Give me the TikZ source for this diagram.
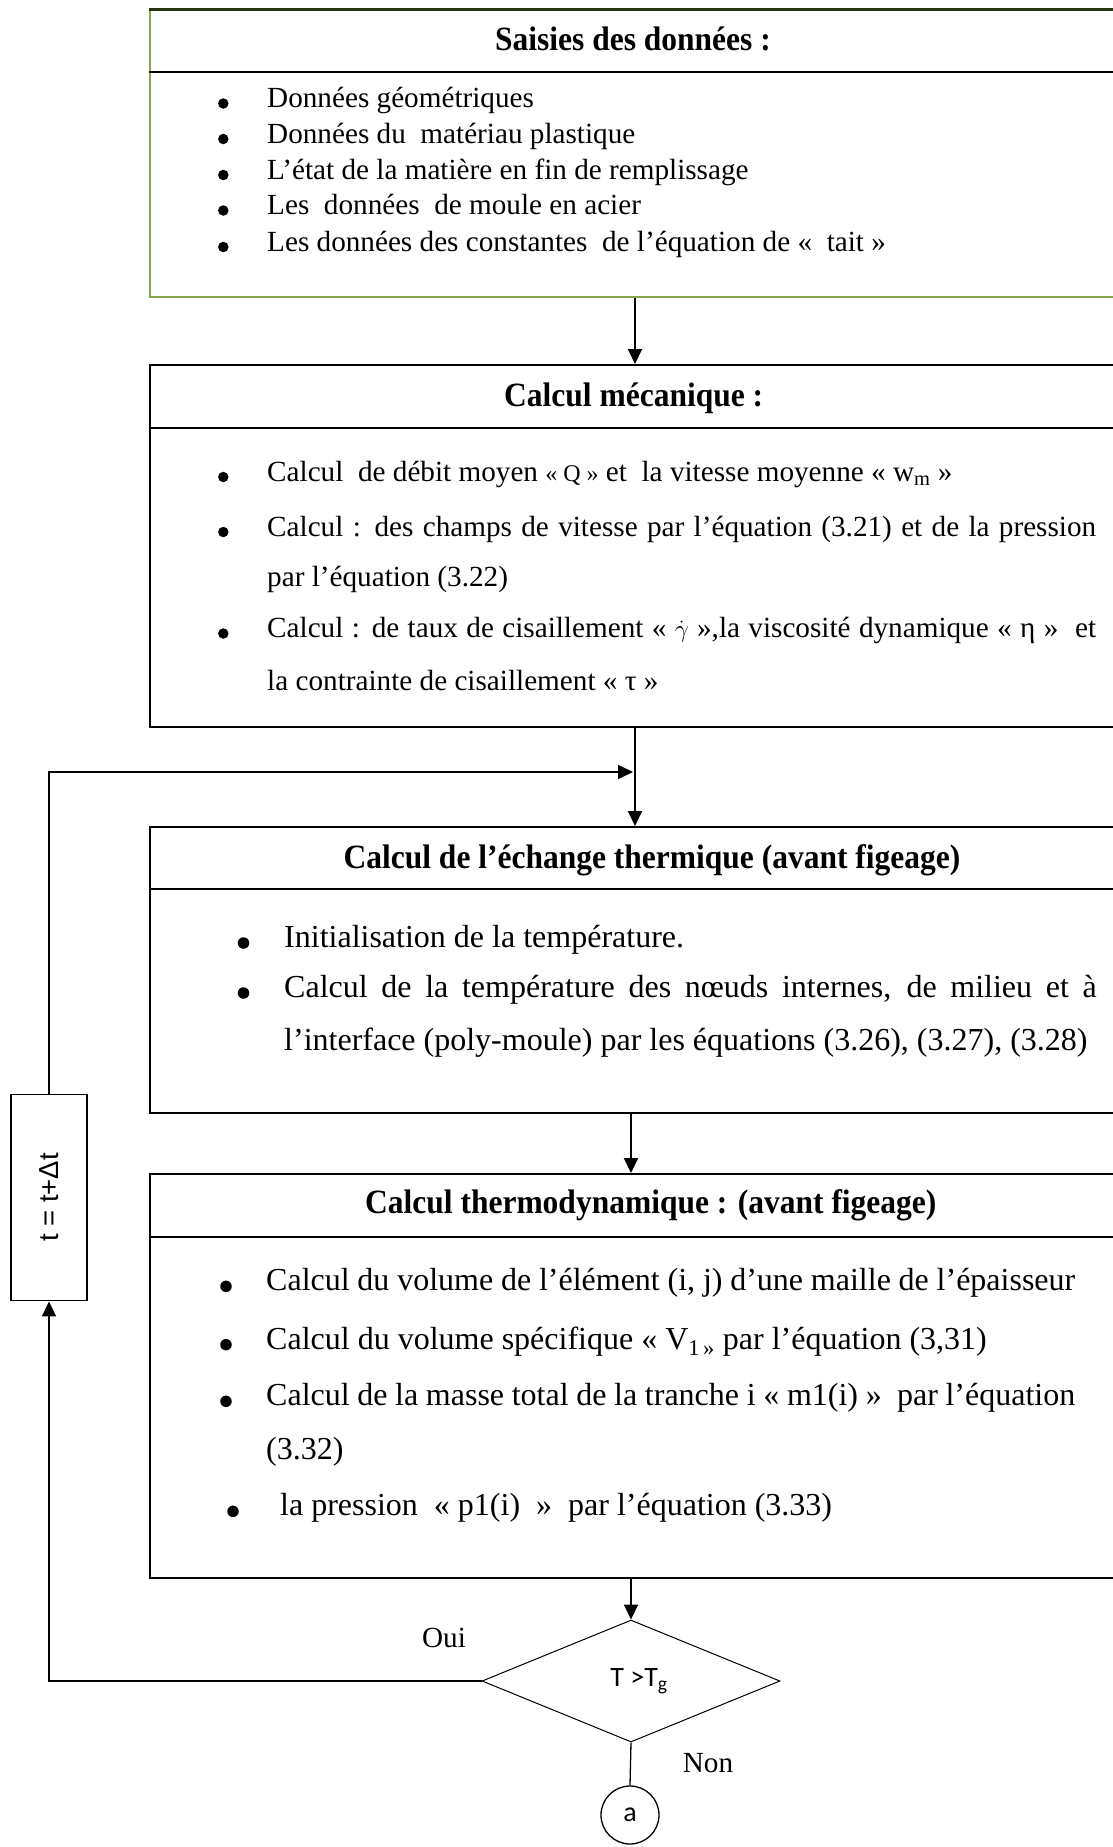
\documentclass[tikz,border=0pt]{standalone}
\usepackage{fontspec}
\setmainfont{Liberation Serif}
\newfontfamily\arialf{Liberation Sans}
\newfontfamily\calibf{Carlito}
\usetikzlibrary{arrows.meta,shapes.geometric}
\definecolor{boxgreen}{HTML}{86A64E}
\definecolor{darkgreen}{HTML}{26330F}
\newcommand{\ttl}[1]{\scalebox{1}[1.08]{#1}}
\begin{document}
\begin{tikzpicture}[x=1pt,y=-1pt,
  box/.style={draw, line width=2pt, rectangle, inner sep=0pt, anchor=north west, minimum width=975pt},
  arr/.style={-{Triangle[length=15pt,width=14pt]}, line width=2pt},
  body/.style={anchor=mid west, inner sep=0pt, font=\fontsize{29.2pt}{35pt}\selectfont},
  bodyL/.style={anchor=mid west, inner sep=0pt, font=\fontsize{32pt}{38pt}\selectfont},
  bul/.style={circle, fill=black, inner sep=0pt, minimum size=10.5pt},
  bulL/.style={circle, fill=black, inner sep=0pt, minimum size=11.5pt},
  title/.style={anchor=base, inner sep=0pt, font=\fontsize{31.5pt}{38pt}\selectfont\bfseries},
  lbl/.style={inner sep=0pt, font=\fontsize{29.2pt}{35pt}\selectfont}
]
\useasboundingbox (0,0) rectangle (1113,1847);
\clip (0,0) rectangle (1113,1847);
\coordinate (ax) at (635,0);
\coordinate (bx) at (631,0);
\coordinate (j) at (633,772);

% Box 1
\node[box, draw=boxgreen, minimum height=286.4pt] (b1) at (149.3,9.3) {};
\draw[darkgreen, line width=2.6pt] (b1.north west) -- (b1.north east);
\draw[line width=2pt] (149.3,72) -- (1124,72);
\node[title] (t1) at (633,50) {\ttl{Saisies des données :}};
\node[bul] (p11) at (223.3,103.5) {};
\node[body] (x11) at (267,105.5) {Données géométriques};
\node[bul] (p12) at (223.3,139) {};
\node[body] (x12) at (267,141) {Données du\ \ matériau plastique};
\node[bul] (p13) at (223.3,175) {};
\node[body] (x13) at (267,177) {L’état de la matière en fin de remplissage};
\node[bul] (p14) at (223.3,210.5) {};
\node[body] (x14) at (267,212.5) {Les\ \ données\ \ de moule en acier};
\node[bul] (p15) at (223.3,247) {};
\node[body] (x15) at (267,249) {Les données des constantes\ \ de l’équation de «\ \ tait »};

% Box 2
\node[box, minimum height=361.7pt] (b2) at (149.3,364) {};
\draw[line width=2pt] (149.3,428.3) -- (1124,428.3);
\node[title] (t2) at (633.7,406.7) {\ttl{Calcul mécanique :}};
\node[bul] (p21) at (223.3,477) {};
\node[body] (x21) at (267,479) {Calcul\ \ de débit moyen {\fontsize{24pt}{28pt}\selectfont « Q »} et\ \ la vitesse moyenne « w\textsubscript{m} »};
\node[bul] (p22) at (223.3,532) {};
\node[body] (x22) at (267,534) {\makebox[829pt][s]{Calcul : des champs de vitesse par l’équation (3.21) et de la pression}};
\node[body] (x23) at (267,584) {par l’équation (3.22)};
\node[bul] (p24) at (223.3,633.5) {};
\node[body] (x24) at (267,635.5) {\makebox[829pt][s]{Calcul : de taux de cisaillement « $\dot{\gamma}$ »,la viscosité dynamique « η »\ \ et}};
\node[body] (x25) at (267,688.5) {la contrainte de cisaillement « τ »};

% Box 3
\node[box, minimum height=285.7pt] (b3) at (149.3,826) {};
\draw[line width=2pt] (149.3,889.3) -- (1124,889.3);
\node[title] (t3) at (652,868) {\ttl{Calcul de l’échange thermique (avant figeage)}};
\node[bulL] (p31) at (243.5,943) {};
\node[bodyL] (x31) at (284,945) {Initialisation de la température.};
\node[bulL] (p32) at (243.5,993) {};
\node[bodyL] (x32) at (284,995) {\makebox[812.5pt][s]{Calcul de la température des nœuds internes, de milieu et à}};
\node[bodyL] (x33) at (284,1048.3) {l’interface (poly-moule) par les équations (3.26), (3.27), (3.28)};

% Box 4
\node[box, minimum height=403.7pt] (b4) at (149.3,1173) {};
\draw[line width=2pt] (149.3,1236.7) -- (1124,1236.7);
\node[title] (t4) at (650.8,1213.5) {\ttl{Calcul thermodynamique : (avant figeage)}};
\node[bulL] (p41) at (226,1286.3) {};
\node[bodyL] (x41) at (266,1288.3) {\makebox[809pt][s]{Calcul du volume de l’élément (i, j) d’une maille de l’épaisseur}};
\node[bulL] (p42) at (226,1344.7) {};
\node[bodyL] (x42) at (266,1346.7) {Calcul du volume spécifique « V\textsubscript{1\,»} par l’équation (3,31)};
\node[bulL] (p43) at (226,1401.3) {};
\node[bodyL] (x43) at (266,1403.3) {\makebox[809pt][s]{Calcul de la masse total de la tranche i « m1(i) »\ \ par l’équation}};
\node[bodyL] (x44) at (266,1456.7) {(3.32)};
\node[bulL] (p45) at (233,1511.3) {};
\node[bodyL] (x45) at (280,1513.3) {la pression\ \ « p1(i)\ \ »\ \ par l’équation (3.33)};

% Decision, connector, loop box
\node[diamond, draw, line width=1pt, aspect=2.44, minimum width=298pt, minimum height=122pt, inner sep=0pt,
      font=\calibf\fontsize{28pt}{34pt}\selectfont] (d) at (631,1681) {\hspace*{16pt}T >T\textsubscript{g}};
\node[circle, draw, line width=1.3pt, minimum size=58pt, inner sep=0pt,
      font=\calibf\fontsize{28pt}{34pt}\selectfont] (c) at (630,1815) {a};
\node[draw, line width=1.8pt, minimum width=76pt, minimum height=206pt, inner sep=0pt,
      font=\arialf\fontsize{27.5pt}{32pt}\selectfont] (tb) at (49,1197.5) {\rotatebox{90}{t = t+Δt}};
\node[lbl] (oui) at (444,1638) {Oui};
\node[lbl] (non) at (708,1763) {Non};

% Connectors
\draw[arr] (b1.south -| ax) -- (b2.north -| ax);
\draw[line width=2pt] (b2.south -| ax) -- (j -| ax);
\draw[arr] (j -| ax) -- (b3.north -| ax);
\draw[arr] (b3.south -| bx) -- (b4.north -| bx);
\draw[arr] (b4.south -| d.north) -- (d.north);
\draw[line width=1.3pt] (d.south) -- (c.north);
\draw[arr, line width=1.6pt] (tb.north) |- (j);
\draw[arr, line width=1.6pt] (d.west) -| (tb.south);
\end{tikzpicture}
\end{document}
